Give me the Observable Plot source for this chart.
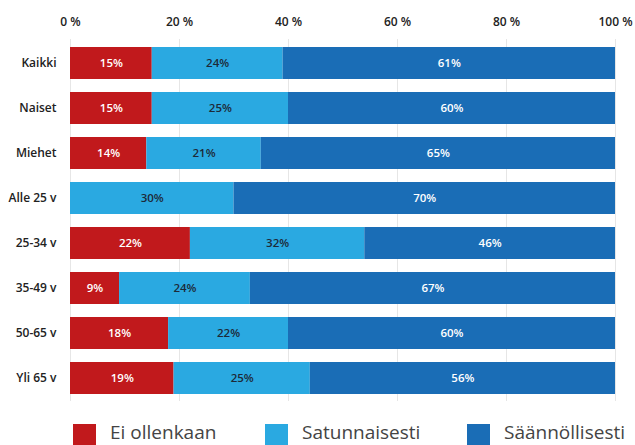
<!DOCTYPE html>
<html><head><meta charset="utf-8">
<script src="https://cdn.jsdelivr.net/npm/d3@7"></script>
<script src="https://cdn.jsdelivr.net/npm/@observablehq/plot@0.6"></script>
<style>
body{margin:0;background:#fff;font-family:"Open Sans",sans-serif;overflow:hidden;}
#legend{height:40px;position:relative;}
.item{position:absolute;top:16px;display:flex;align-items:flex-start;font-size:19px;color:#444;line-height:23px;white-space:nowrap;}
.sw{width:23px;height:24px;margin-top:3px;margin-right:14px;}
</style></head>
<body>
<div id="chart"></div>
<div id="legend"></div>
<script>
const groups = ["Kaikki","Naiset","Miehet","Alle 25 v","25-34 v","35-49 v","50-65 v","Yli 65 v"];
const eiOllenkaan = [15,15,14,0,22,9,18,19];
const satunnaisesti = [24,25,21,30,32,24,22,25];
const saannollisesti = [61,60,65,70,46,67,60,56];
const categories = ["Ei ollenkaan","Satunnaisesti","Säännöllisesti"];
const colors = ["#c1191c","#2aa9e1","#1a6db6"];
const xTicks = [0,20,40,60,80,100];

const series = [eiOllenkaan, satunnaisesti, saannollisesti];
const rows = [];
groups.forEach((g,i)=>{
  let acc = 0;
  series.forEach((s,k)=>{
    rows.push({group:g, cat:categories[k], value:s[i], x1:acc, x2:acc+s[i]});
    acc += s[i];
  });
});

const chart = Plot.plot({
  width:635, height:405,
  marginLeft:70, marginRight:20, marginTop:39, marginBottom:4,
  style:{fontFamily:"Open Sans, sans-serif", fontSize:"12px", color:"#333"},
  x:{domain:[0,100], axis:"top", ticks:xTicks, tickFormat:d=>d+" %", tickSize:0, tickPadding:14, label:null, grid:false},
  y:{domain:groups, paddingInner:0.29, paddingOuter:0.145, tickSize:0, tickPadding:14, label:null},
  color:{domain:categories, range:colors},
  marks:[
    Plot.ruleX(xTicks, {stroke:"#e6e6e6", strokeWidth:1}),
    Plot.barX(rows.filter(d=>d.value>0), {x1:"x1", x2:"x2", y:"group", fill:"cat"}),
    Plot.text(rows.filter(d=>d.value>0 && d.cat!=="Satunnaisesti"), {x:d=>(d.x1+d.x2)/2, y:"group", text:d=>d.value+"%", fill:"white", fontSize:11.5, fontWeight:600}),
    Plot.text(rows.filter(d=>d.value>0 && d.cat==="Satunnaisesti"), {x:d=>(d.x1+d.x2)/2, y:"group", text:d=>d.value+"%", fill:"#1d2a38", fontSize:11.5, fontWeight:600})
  ]
});
chart.querySelectorAll("g[aria-label='y-axis tick label'], g[aria-label='x-axis tick label']").forEach(g=>{g.setAttribute("font-weight","600");g.setAttribute("fill","#222");});
document.getElementById("chart").appendChild(chart);

const lx = [73,265,467];
const legend = document.getElementById("legend");
categories.forEach((c,i)=>{
  const it = document.createElement("div");
  it.className="item"; it.style.left = lx[i]+"px";
  const sw = document.createElement("div"); sw.className="sw"; sw.style.background=colors[i];
  const tx = document.createElement("span"); tx.textContent=c;
  it.appendChild(sw); it.appendChild(tx); legend.appendChild(it);
});
</script>
</body></html>
